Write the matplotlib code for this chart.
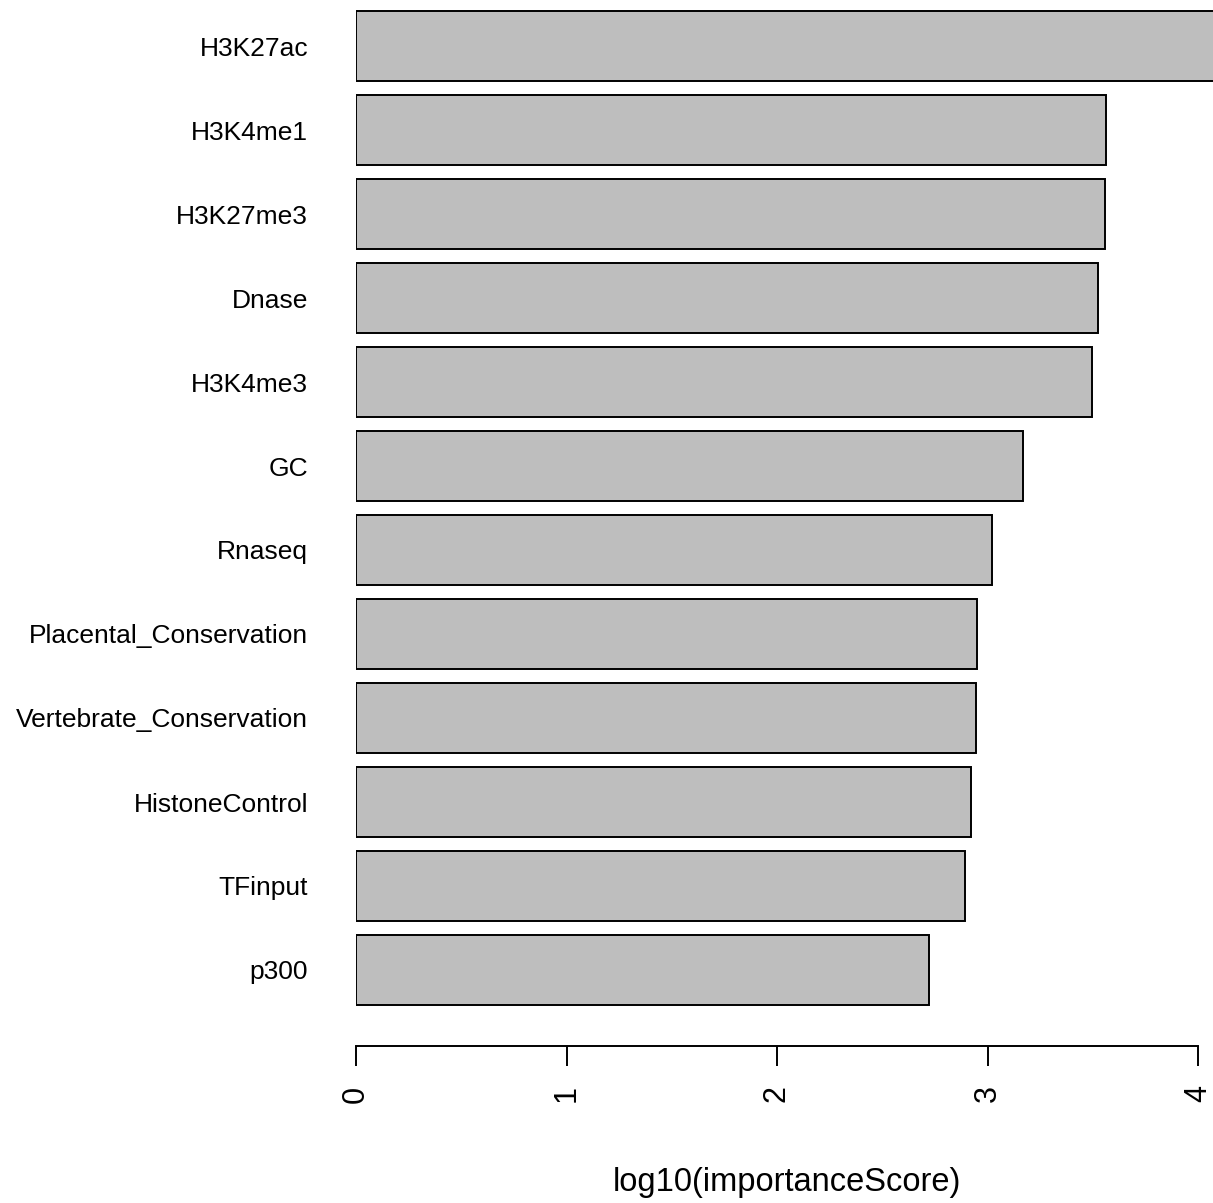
import matplotlib
matplotlib.use("Agg")
import matplotlib.pyplot as plt

plt.rcParams['font.family'] = ['Liberation Sans', 'DejaVu Sans']

# feature names, top to bottom as drawn
features = ["H3K27ac", "H3K4me1", "H3K27me3", "Dnase", "H3K4me3", "GC",
            "Rnaseq", "Placental_Conservation", "Vertebrate_Conservation",
            "HistoneControl", "TFinput", "p300"]
# log10(importanceScore)
scores = [4.12, 3.565, 3.56, 3.525, 3.497, 3.17,
          3.023, 2.95, 2.943, 2.92, 2.895, 2.72]
xticks = [0, 1, 2, 3, 4]

# R barplot layout: width 1, space 0.2, bottom bar first
n = len(features)
ypos = [0.7 + 1.2 * i for i in range(n)]

fig = plt.figure(figsize=(12.13, 12.03), dpi=100)
ax = fig.add_axes([356 / 1213, (1203 - 1046) / 1203, 1 - 356 / 1213, 1046 / 1203])

ax.barh(ypos, scores[::-1], height=1.0, left=0, color="#bebebe",
        edgecolor="black", linewidth=1.4)

ax.set_xlim(0, (1213 - 356) / 210.5)
ax.set_ylim(14.4 - (1046 - 11) / 70, 14.4 + 11 / 70)

for s in ["top", "right", "left"]:
    ax.spines[s].set_visible(False)
ax.spines["bottom"].set_bounds(0, 4)
ax.spines["bottom"].set_linewidth(1.4)

ax.set_xticks(xticks)
ax.set_xticklabels([str(t) for t in xticks], rotation=90, fontsize=22)
ax.tick_params(axis="x", length=14.4, width=1.4, pad=14)

ax.set_yticks(ypos)
ax.set_yticklabels(features[::-1], fontsize=19)
ax.tick_params(axis="y", length=0, pad=34.5)

fig.text(787 / 1213, 1 - 1182 / 1203, "log10(importanceScore)",
         ha="center", va="center", fontsize=23.5)

fig.savefig("out.png", dpi=100)
